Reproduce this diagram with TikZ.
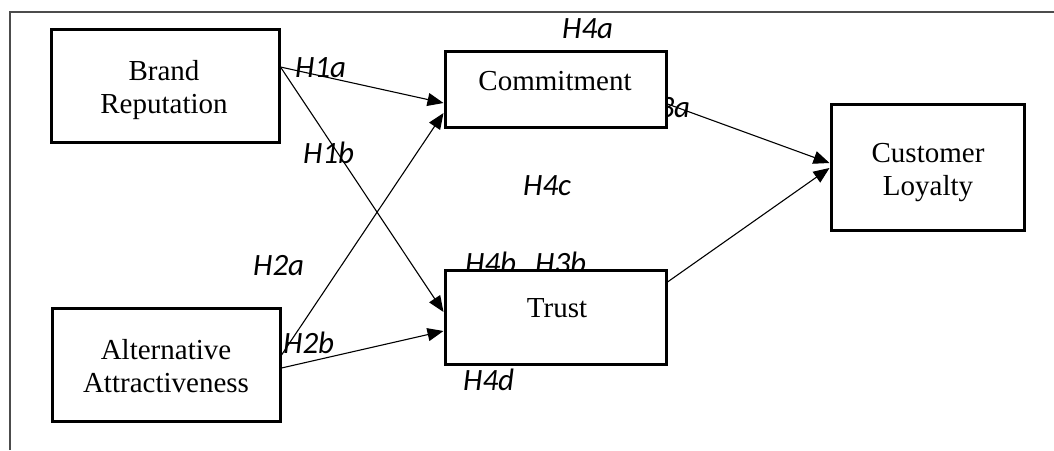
\documentclass[tikz,border=0pt]{standalone}
\usepackage{fontspec}
\setmainfont{Liberation Serif}
\newfontfamily\lblfont{Carlito}
\usetikzlibrary{arrows.meta}
\begin{document}
\begin{tikzpicture}[x=1pt,y=-1pt,
  box/.style={draw=black,line width=3pt,fill=white,inner sep=0pt},
  boxtext/.style={font=\fontsize{29}{33}\selectfont,align=center,inner sep=0pt,anchor=base},
  hyp/.style={font=\lblfont\itshape\fontsize{31}{33}\selectfont,inner sep=0pt,anchor=base west},
  link/.style={line width=1.1pt,-{Triangle[length=16pt,width=13pt]}}]
\useasboundingbox (0,0) rectangle (1054,450);
% frame
\draw[line width=2pt,black!70] (10,450) -- (10,12) -- (1054,12);
% labels hidden partly behind boxes
\node[hyp] (h3a) at (639,117) {H3a};
\node[hyp] (h4b) at (465,273) {H4b};
\node[hyp] (h3b) at (535,273) {H3b};
% boxes
\node[box,minimum width=228pt,minimum height=113pt] (br) at (165,85.5) {};
\node[box,minimum width=221pt,minimum height=76pt] (com) at (555.5,89) {};
\node[box,minimum width=193pt,minimum height=126pt] (cl) at (927.5,167) {};
\node[box,minimum width=228pt,minimum height=113pt] (alt) at (166,364.5) {};
\node[box,minimum width=221pt,minimum height=94pt] (tr) at (555.5,317) {};
% box texts
\node[boxtext] (brt) at (164,113) {Brand\\Reputation};
\node[boxtext] (comt) at (555,90) {Commitment};
\node[boxtext] (clt) at (928,195) {Customer\\Loyalty};
\node[boxtext] (altt) at (166,392) {Alternative\\Attractiveness};
\node[boxtext] (trt) at (557,317) {Trust};
% other labels
\node[hyp] (h1a) at (295,77) {H1a};
\node[hyp] (h1b) at (303,163) {H1b};
\node[hyp] (h4a) at (562,38) {H4a};
\node[hyp] (h4c) at (523,195) {H4c};
\node[hyp] (h2a) at (253,275) {H2a};
\node[hyp] (h2b) at (283,353) {H2b};
\node[hyp] (h4d) at (463,390) {H4d};
% connectors
\draw[link] ([yshift=18.5pt]br.east) -- ([yshift=-14pt]com.west);
\draw[link] ([yshift=18.5pt]br.east) -- ([yshift=5pt]tr.west);
\draw[link] ([yshift=9.5pt]alt.east) -- ([yshift=-24pt]com.west);
\draw[link] ([yshift=-3.5pt]alt.east) -- ([yshift=-14pt]tr.west);
\draw[link] ([yshift=-15pt]com.east) -- ([yshift=4pt]cl.west);
\draw[link] ([yshift=35pt]tr.east) -- ([yshift=-1pt]cl.west);
\end{tikzpicture}
\end{document}
